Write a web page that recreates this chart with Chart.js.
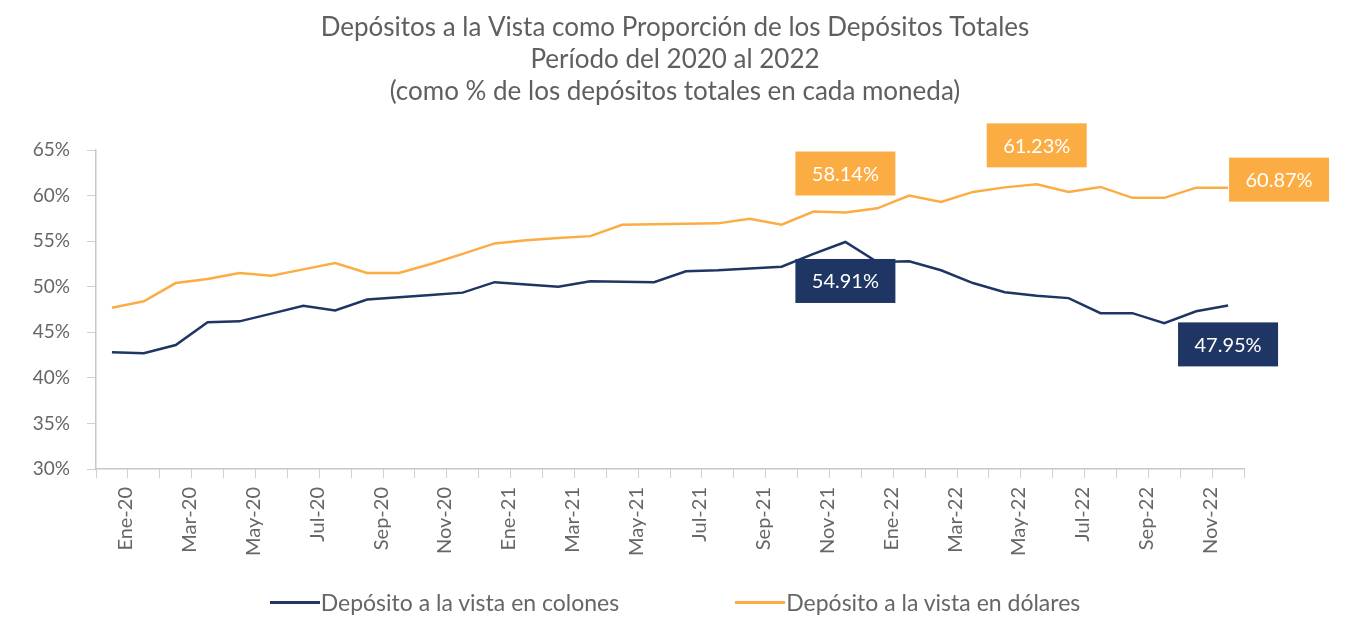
<!DOCTYPE html>
<html>
<head>
<meta charset="utf-8">
<script src="https://cdn.jsdelivr.net/npm/chart.js@4.4.1/dist/chart.umd.min.js"></script>
<style>
  body { margin: 0; background: #fff; }
  #wrap { position: relative; width: 1350px; height: 620px; }
  #leyenda { position: absolute; left: 0; top: 588px; width: 1350px; display: flex; justify-content: center; gap: 116px;
    font-family: 'Lato', 'Open Sans', sans-serif; font-size: 23px; color: #666; }
  #leyenda .item { display: flex; align-items: center; }
  #leyenda .linea { display: inline-block; width: 50px; height: 3px; margin-right: 1px; }
</style>
</head>
<body>
<div id="wrap">
  <canvas id="grafico" width="1350" height="620"></canvas>
  <div id="leyenda"></div>
</div>
<script>
// meses de Ene-20 a Dic-22
var meses = ['Ene-20','Feb-20','Mar-20','Abr-20','May-20','Jun-20','Jul-20','Ago-20','Sep-20','Oct-20','Nov-20','Dic-20',
             'Ene-21','Feb-21','Mar-21','Abr-21','May-21','Jun-21','Jul-21','Ago-21','Sep-21','Oct-21','Nov-21','Dic-21',
             'Ene-22','Feb-22','Mar-22','Abr-22','May-22','Jun-22','Jul-22','Ago-22','Sep-22','Oct-22','Nov-22','Dic-22'];

var colones = [42.8, 42.7, 43.6, 46.1, 46.2, 47.05, 47.9, 47.4, 48.6, 48.85, 49.1, 49.35,
               50.5, 50.25, 50.0, 50.6, 50.55, 50.5, 51.7, 51.8, 52.0, 52.2, 53.6, 54.91,
               52.7, 52.8, 51.8, 50.4, 49.4, 49.0, 48.75, 47.1, 47.1, 46.0, 47.3, 47.95];

var dolares = [47.7, 48.4, 50.4, 50.85, 51.5, 51.2, 51.9, 52.6, 51.5, 51.5, 52.5, 53.6,
               54.75, 55.1, 55.35, 55.55, 56.8, 56.85, 56.9, 56.95, 57.45, 56.8, 58.25, 58.14,
               58.6, 60.0, 59.3, 60.4, 60.9, 61.23, 60.4, 60.95, 59.75, 59.75, 60.87, 60.87];

var nombres = ['Depósito a la vista en colones', 'Depósito a la vista en dólares'];
var colores = ['#1f3564', '#fbad44'];

var titulo = ['Depósitos a la Vista como Proporción de los Depósitos Totales',
              'Período del 2020 al 2022',
              '(como % de los depósitos totales en cada moneda)'];

// puntos con etiqueta: serie, indice, donde
var etiquetas = [
  { serie: 1, idx: 23, pos: 'arriba' },
  { serie: 1, idx: 29, pos: 'arriba' },
  { serie: 1, idx: 35, pos: 'derecha' },
  { serie: 0, idx: 23, pos: 'abajo' },
  { serie: 0, idx: 35, pos: 'abajo' }
];

var fuente = "'Lato', 'Open Sans', sans-serif";
var gris = '#666666';

// titulo centrado en todo el canvas (el del plugin se centra en el area)
var tituloPlugin = {
  id: 'tituloCentrado',
  beforeDraw: function(chart) {
    var ctx = chart.ctx;
    ctx.save();
    ctx.font = '26px ' + fuente;
    ctx.fillStyle = '#5f5f5f';
    ctx.textAlign = 'center';
    ctx.textBaseline = 'middle';
    titulo.forEach(function(t, i) {
      ctx.fillText(t, chart.width / 2, 28 + i * 32);
    });
    ctx.restore();
  }
};

// dibuja las cajas de las etiquetas
var cajasPlugin = {
  id: 'cajas',
  afterDatasetsDraw: function(chart) {
    var ctx = chart.ctx;
    ctx.save();
    ctx.font = '20px ' + fuente;
    ctx.textAlign = 'center';
    ctx.textBaseline = 'middle';
    etiquetas.forEach(function(e) {
      var p = chart.getDatasetMeta(e.serie).data[e.idx];
      var valor = chart.data.datasets[e.serie].data[e.idx];
      var w = 100, h = 44, x, y;
      if (e.pos == 'arriba') { x = p.x - w / 2; y = p.y - 17 - h; }
      else if (e.pos == 'abajo') { x = p.x - w / 2; y = p.y + 17; }
      else { x = p.x + 1; y = p.y - 8 - h / 2; }
      ctx.fillStyle = colores[e.serie];
      ctx.fillRect(x, y, w, h);
      ctx.fillStyle = '#ffffff';
      ctx.fillText(valor.toFixed(2) + '%', x + w / 2, y + h / 2 + 1);
    });
    ctx.restore();
  }
};

document.addEventListener('DOMContentLoaded', function() {
  var ctx = document.getElementById('grafico');

  var config = {
    type: 'line',
    data: {
      labels: meses,
      datasets: [
        { label: nombres[0], data: colones, borderColor: colores[0], backgroundColor: colores[0],
          borderWidth: 2.5, pointRadius: 0, tension: 0 },
        { label: nombres[1], data: dolares, borderColor: colores[1], backgroundColor: colores[1],
          borderWidth: 2.5, pointRadius: 0, tension: 0 }
      ]
    },
    options: {
      responsive: false,
      animation: false,
      layout: { padding: { left: 26, right: 106, top: 150, bottom: 40 } },
      plugins: {
        legend: { display: false },
        tooltip: { enabled: false },
        title: { display: false }
      },
      scales: {
        x: {
          offset: true,
          grid: { display: true, drawOnChartArea: false, drawTicks: true, tickLength: 9, offset: true, color: '#d0d0d0' },
          border: { display: true, color: '#c8c8c8', width: 1.5 },
          ticks: {
            autoSkip: false, maxRotation: 90, minRotation: 90, padding: 9, labelOffset: 14,
            color: gris, font: { family: fuente, size: 20 },
            callback: function(val, i) { return i % 2 == 0 ? meses[i] : ''; }
          },
          afterFit: function(s) { s.height = 111; }
        },
        y: {
          min: 30, max: 65,
          grid: { display: true, drawOnChartArea: false, drawTicks: true, tickLength: 9, color: '#d0d0d0' },
          border: { display: true, color: '#c8c8c8', width: 1.5 },
          ticks: { stepSize: 5, padding: 17, color: gris, font: { family: fuente, size: 19 },
            callback: function(v) { return v + '%'; } },
          afterFit: function(s) { s.width = 70; }
        }
      }
    },
    plugins: [tituloPlugin, cajasPlugin]
  };

  var miGrafico = new Chart(ctx, config);

  // leyenda abajo
  var ley = document.getElementById('leyenda');
  nombres.forEach(function(n, i) {
    var item = document.createElement('div');
    item.className = 'item';
    item.innerHTML = '<span class="linea" style="background:' + colores[i] + '"></span><span>' + n + '</span>';
    ley.appendChild(item);
  });
});
</script>
</body>
</html>
